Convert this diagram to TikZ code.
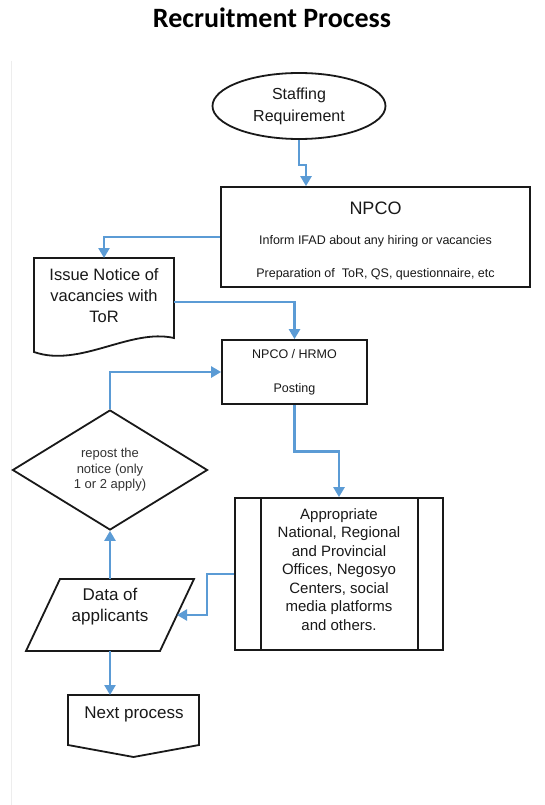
\documentclass[tikz,border=0pt]{standalone}
\usepackage{fontspec}
\setmainfont{Liberation Sans}
\newfontfamily\headfont{Carlito}
\usetikzlibrary{shapes.geometric,arrows.meta,calc}
\definecolor{flowblue}{HTML}{5B9BD5}
\begin{document}
\begin{tikzpicture}[x=1pt,y=-1pt,
  outline/.style={draw=black!90, line width=1.8pt},
  flow/.style={draw=flowblue, line width=2.8pt, -{Triangle[length=10pt,width=11pt]}},
  lbl/.style={inner sep=0pt, align=center, text=black!90},
  frame/.style={inner sep=0pt, outer sep=0pt},
]
\useasboundingbox (0,0) rectangle (544,805);
\fill[white] (0,0) rectangle (544,805);
% faint page edge
\draw[black!7, line width=0.8pt] (11.5,61) -- (11.5,805);

% heading
\node[inner sep=0pt, anchor=base, font=\headfont\bfseries\fontsize{28}{34}\selectfont] (title) at (272,28) {Recruitment Process};

% start terminal
\node[outline, ellipse, minimum width=173pt, minimum height=66pt, inner sep=0pt, align=center, text=black!90,
      font=\fontsize{16}{22}\selectfont] (staff) at (299,106) {Staffing\\Requirement};

% NPCO process box
\node[outline, rectangle, minimum width=309pt, minimum height=100pt] (npco) at (375.5,237) {};
\node[lbl, anchor=base, font=\fontsize{18}{22}\selectfont] (npcohead) at (375.5,214.5) {NPCO};
\node[lbl, anchor=base, font=\fontsize{12.5}{15}\selectfont] (npcoinform) at (375.5,244.5) {Inform IFAD about any hiring or vacancies};
\node[lbl, anchor=base, font=\fontsize{12.5}{15}\selectfont] (npcoprep) at (375.5,277.5) {Preparation of\ \ ToR, QS, questionnaire, etc};

% document shape
\node[frame, minimum width=140pt, minimum height=94pt] (doc) at (104,305) {};
\draw[outline] (doc.north west) -- (doc.north east) -- ([yshift=14pt]doc.south east)
  .. controls ([xshift=-44pt,yshift=24pt]doc.south east) and ([xshift=46pt,yshift=-16pt]doc.south west) .. (doc.south west) -- cycle;
\node[lbl, font=\fontsize{16.5}{21}\selectfont] (doctext) at (104,296) {Issue Notice of\\vacancies with\\ToR};

% posting box
\node[outline, minimum width=145pt, minimum height=64pt, align=center, text=black!90,
      font=\fontsize{12.5}{34}\selectfont] (hrmo) at (294.5,372) {NPCO / HRMO\\Posting};

% decision
\node[outline, diamond, aspect=1.6, minimum width=195pt, minimum height=120pt, inner sep=0pt, align=center,
      text=black!80, font=\fontsize{13}{15.5}\selectfont] (dia) at (110,470) {repost the\\notice (only\\1 or 2 apply)};

% predefined process
\node[outline, minimum width=208pt, minimum height=152pt] (proc) at (339,574) {};
\draw[outline] ([xshift=27pt]proc.north west) -- ([xshift=27pt]proc.south west);
\draw[outline] ([xshift=-26pt]proc.north east) -- ([xshift=-26pt]proc.south east);
\node[lbl, font=\fontsize{15}{18.5}\selectfont] (proctext) at (339,569.5)
  {Appropriate\\National, Regional\\and Provincial\\Offices, Negosyo\\Centers, social\\media platforms\\and others.};

% data (parallelogram)
\node[frame, minimum width=168pt, minimum height=72pt] (para) at (110,615) {};
\draw[outline] ([xshift=34pt]para.north west) -- (para.north east) -- ([xshift=-34pt]para.south east)
  -- (para.south west) -- cycle;
\coordinate (pararight) at ([xshift=-17pt]para.east);
\node[lbl, font=\fontsize{17}{21}\selectfont] (paratext) at (110,607) {Data of\\applicants};

% off-page connector
\node[frame, minimum width=131pt, minimum height=62pt] (next) at (133.5,726) {};
\draw[outline] (next.north west) -- (next.north east) -- ([yshift=12pt]next.south east)
  -- (next.south) -- ([yshift=12pt]next.south west) -- cycle;
\node[lbl, anchor=base, font=\fontsize{17}{21}\selectfont] (nexttext) at (134,718) {Next process};

% connectors
\coordinate (j1) at (306,165);
\draw[flow] (staff.south) |- (j1) -- (j1 |- npco.north);
\draw[flow] (npco.west) -| (doc.north);
\draw[flow] ([yshift=3pt]doc.east) -| (hrmo.north);
\draw[flow] (hrmo.south) |- ([yshift=46pt]proc.north) -- (proc.north);
\draw[flow] (dia.north) |- (hrmo.west);
\coordinate (j3) at ([xshift=30pt]pararight);
\draw[flow] (proc.west) -| (j3) -- (pararight);
\draw[flow] (para.north -| dia.south) -- (dia.south);
\draw[flow] (para.south -| dia.south) -- (dia.south |- next.north);
\end{tikzpicture}
\end{document}
